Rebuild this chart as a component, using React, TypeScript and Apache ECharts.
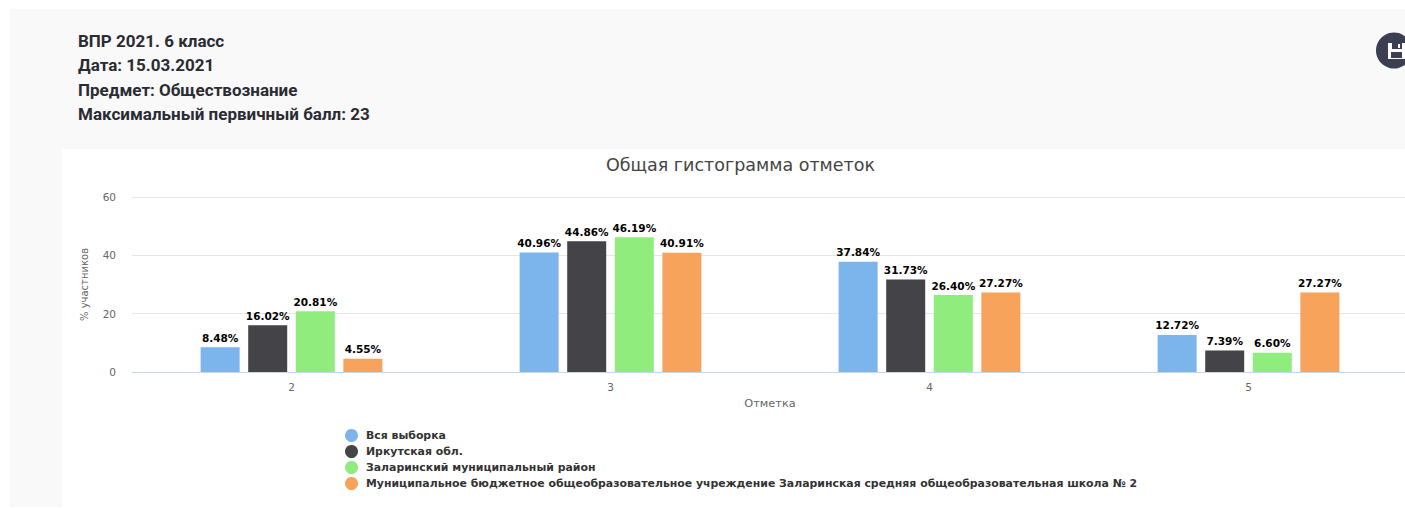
import React, { useEffect, useRef } from "react";
import * as echarts from "echarts";

const categories = ["2", "3", "4", "5"];
const seriesNames = [
  "Вся выборка",
  "Иркутская обл.",
  "Заларинский муниципальный район",
  "Муниципальное бюджетное общеобразовательное учреждение Заларинская средняя общеобразовательная школа № 2",
];
const allSample = [8.48, 40.96, 37.84, 12.72];
const irkutsk = [16.02, 44.86, 31.73, 7.39];
const zalari = [20.81, 46.19, 26.4, 6.6];
const school = [4.55, 40.91, 27.27, 27.27];
const colors = ["#7cb5ec", "#434348", "#90ed7d", "#f7a35c"];
const headerLines = [
  "ВПР 2021. 6 класс",
  "Дата: 15.03.2021",
  "Предмет: Обществознание",
  "Максимальный первичный балл: 23",
];

export default function App() {
  const ref = useRef<HTMLDivElement>(null);
  useEffect(() => {
    const chart = echarts.init(ref.current!, undefined, { renderer: "svg" });
    const values = [allSample, irkutsk, zalari, school];
    chart.setOption({
      animation: false,
      backgroundColor: "#ffffff",
      title: {
        text: "Общая гистограмма отметок",
        left: 735.5,
        top: 151,
        textAlign: "center",
        textStyle: { fontFamily: "DejaVu Sans", fontSize: 17.5, fontWeight: "normal", color: "#444" },
      },
      grid: { left: 132, top: 197, width: 1276, height: 175, outerBoundsMode: "none" },
      legend: {
        left: 340,
        top: 424,
        orient: "vertical",
        icon: "circle",
        itemWidth: 13,
        itemHeight: 13,
        itemGap: 3,
        selectedMode: false,
        data: seriesNames,
        textStyle: { fontFamily: "DejaVu Sans", fontSize: 10.9, fontWeight: "bold", color: "#333", padding: [0, 0, 0, 3] },
      },
      xAxis: {
        type: "category",
        data: categories,
        name: "Отметка",
        nameLocation: "middle",
        nameGap: 26,
        nameTextStyle: { fontFamily: "DejaVu Sans", fontSize: 11.3, color: "#666" },
        axisLine: { lineStyle: { color: "#ccd6eb", width: 1 } },
        axisTick: { show: false },
        axisLabel: { fontFamily: "DejaVu Sans", fontSize: 10.5, color: "#666", margin: 9 },
      },
      yAxis: {
        type: "value",
        min: 0,
        max: 60,
        interval: 20,
        name: "% участников",
        nameLocation: "middle",
        nameGap: 43,
        nameTextStyle: { fontFamily: "DejaVu Sans", fontSize: 10, color: "#666" },
        axisLine: { show: false },
        axisTick: { show: false },
        axisLabel: { fontFamily: "DejaVu Sans", fontSize: 10.5, color: "#666", margin: 16 },
        splitLine: { lineStyle: { color: "#e6e6e6", width: 1 } },
      },
      series: seriesNames.map((name, i) => ({
        name,
        type: "bar",
        data: values[i],
        barWidth: 39,
        barGap: "22%",
        itemStyle: { color: colors[i] },
        label: {
          show: true,
          position: "top",
          distance: 4,
          formatter: (p: any) => p.value.toFixed(2) + "%",
          fontFamily: "DejaVu Sans",
          fontSize: 10.5,
          fontWeight: "bold",
          color: "#000",
        },
      })),
      graphic: [
        { type: "rect", z: -10, silent: true, shape: { x: 10, y: 9, width: 1395, height: 140 }, style: { fill: "#f9f9f9" } },
        { type: "rect", z: -10, silent: true, shape: { x: 10, y: 149, width: 52, height: 358 }, style: { fill: "#f9f9f9" } },
        ...headerLines.map((text, i) => ({
          type: "text",
          x: 78,
          y: 32 + i * 24.6,
          style: { text, fontFamily: "Roboto", fontSize: 17, fontWeight: "bold", fill: "#2b2b33" },
        })),
        { type: "circle", shape: { cx: 1394, cy: 50.5, r: 18 }, style: { fill: "#3b3f51" } },
        { type: "rect", shape: { x: 1388, y: 43, width: 17, height: 16 }, style: { fill: "#ffffff" } },
        { type: "rect", shape: { x: 1392, y: 43, width: 10, height: 6 }, style: { fill: "#3b3f51" } },
        { type: "rect", shape: { x: 1398, y: 44, width: 2, height: 4 }, style: { fill: "#ffffff" } },
        { type: "rect", shape: { x: 1391, y: 52, width: 11, height: 6 }, style: { fill: "#3b3f51" } },
      ],
    });
    return () => chart.dispose();
  }, []);
  return (
    <div style={{ position: "absolute", left: 0, top: 0, width: 1405, height: 508, overflow: "hidden" }}>
      <div ref={ref} style={{ width: 1405, height: 508 }} />
    </div>
  );
}
